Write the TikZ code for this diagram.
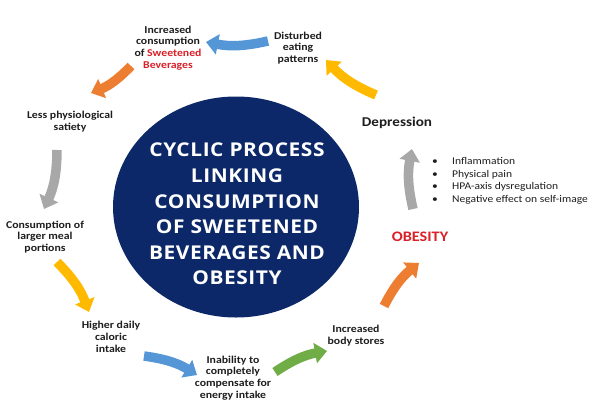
\documentclass[tikz,border=0pt]{standalone}
\usepackage{fontspec}
\setmainfont{Carlito}[FakeStretch=1.12]
\newfontfamily\titlefont{Open Sans}[FakeStretch=1.1,LetterSpace=3]
\usetikzlibrary{arrows.meta,shapes.geometric}
\definecolor{navy}{RGB}{12,40,104}
\definecolor{redtxt}{RGB}{218,32,40}
\definecolor{arrblue}{RGB}{84,150,214}
\definecolor{arrorange}{RGB}{237,125,49}
\definecolor{arrgray}{RGB}{168,168,168}
\definecolor{arryellow}{RGB}{255,186,0}
\definecolor{arrgreen}{RGB}{112,173,71}
\definecolor{txt}{RGB}{30,30,30}
\begin{document}
\begin{tikzpicture}[x=1pt,y=-1pt,
  lbl/.style={align=center,font=\bfseries\fontsize{10.5}{11.8}\selectfont,text=txt,inner sep=0pt},
  blockarrow/.style={line width=9.5pt,-{Triangle[width=20pt,length=12pt]},bend left=12}]
\useasboundingbox (0,0) rectangle (589,410);
\fill[white] (0,0) rectangle (589,410);
% central ellipse
\node[ellipse,fill=navy,minimum width=246pt,minimum height=221pt,inner sep=0pt] (core) at (236,207) {};
\node[align=center,text=white,inner sep=0pt,font=\titlefont\bfseries\fontsize{19}{25.6}\selectfont] (title) at (237,214)
  {CYCLIC PROCESS\\LINKING\\CONSUMPTION\\OF SWEETENED\\BEVERAGES AND\\OBESITY};
% labels
\node[lbl] (inc) at (168,48) {Increased\\consumption\\of \textcolor{redtxt}{Sweetened}\\\textcolor{redtxt}{Beverages}};
\node[lbl] (dist) at (298,48) {Disturbed\\eating\\patterns};
\node[lbl] (less) at (70,122) {Less physiological\\satiety};
\node[lbl] (cons) at (45,237) {Consumption of\\larger meal\\portions};
\node[lbl] (high) at (111,337) {Higher daily\\caloric\\intake};
\node[lbl] (inab) at (233,378) {Inability to\\completely\\compensate for\\energy intake};
\node[lbl] (body) at (356,336) {Increased\\body stores};
\node[font=\bfseries\fontsize{14.5}{16}\selectfont,text=redtxt,inner sep=0pt] (obes) at (420,237) {OBESITY};
\node[font=\bfseries\fontsize{13.5}{15}\selectfont,text=txt,inner sep=0pt] (dep) at (397,123) {Depression};
\node[anchor=north west,align=left,inner sep=0pt,text=txt,font=\fontsize{10.3}{12.7}\selectfont] (list) at (432,157)
  {\makebox[20pt][l]{\textbullet}Inflammation\\
   \makebox[20pt][l]{\textbullet}Physical pain\\
   \makebox[20pt][l]{\textbullet}HPA-axis dysregulation\\
   \makebox[20pt][l]{\textbullet}Negative effect on self-image};
% arrow endpoints
\coordinate (a1s) at (268,41); \coordinate (a1e) at (206,42);
\coordinate (a2s) at (131,66); \coordinate (a2e) at (91,93);
\coordinate (a3s) at (57,150); \coordinate (a3e) at (44,209);
\coordinate (a4s) at (57,262); \coordinate (a4e) at (89,312);
\coordinate (a5s) at (144,356); \coordinate (a5e) at (197,375);
\coordinate (a6s) at (275,372); \coordinate (a6e) at (327,351);
\coordinate (a7s) at (384,306); \coordinate (a7e) at (419,263);
\coordinate (a8s) at (413,209); \coordinate (a8e) at (412,149);
\coordinate (a9s) at (376,95); \coordinate (a9e) at (326,60);
% arrows
\draw[blockarrow,arrblue] (a1s) to (a1e);
\draw[blockarrow,arrorange] (a2s) to (a2e);
\draw[blockarrow,arrgray] (a3s) to (a3e);
\draw[blockarrow,arryellow] (a4s) to (a4e);
\draw[blockarrow,arrblue] (a5s) to (a5e);
\draw[blockarrow,arrgreen] (a6s) to (a6e);
\draw[blockarrow,arrorange] (a7s) to (a7e);
\draw[blockarrow,arrgray] (a8s) to (a8e);
\draw[blockarrow,arryellow] (a9s) to (a9e);
\end{tikzpicture}
\end{document}
